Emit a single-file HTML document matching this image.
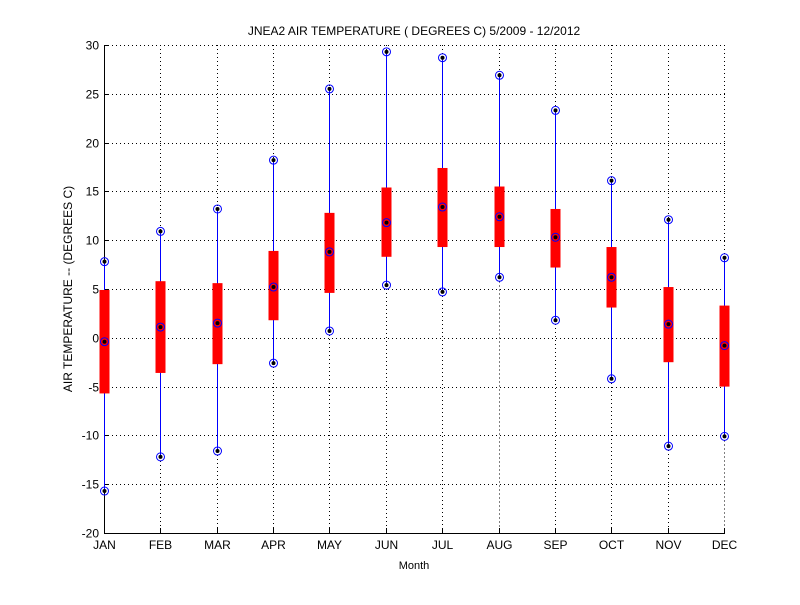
<!DOCTYPE html>
<html><head><meta charset="utf-8"><style>
body{margin:0;background:#fff;}
svg text{font-family:"Liberation Sans",sans-serif;font-size:12px;fill:#000;}
line{shape-rendering:crispEdges;}
</style></head><body>
<svg id="chart" width="800" height="600">
<rect width="800" height="600" fill="#fff"/>
<g id="grid"></g>
<g id="axes"></g>
<g id="marks"></g>
<text x="414" y="35" text-anchor="middle">JNEA2  AIR TEMPERATURE ( DEGREES C) 5/2009 - 12/2012</text>
<text x="414" y="569" text-anchor="middle" style="font-size:11px">Month</text>
<text transform="translate(72,289) rotate(-90)" text-anchor="middle">AIR TEMPERATURE -- (DEGREES C)</text>
</svg>
<script>
const months=["JAN","FEB","MAR","APR","MAY","JUN","JUL","AUG","SEP","OCT","NOV","DEC"];
const maxVals=[7.8,10.9,13.2,18.2,25.5,29.3,28.7,26.9,23.3,16.1,12.1,8.2];
const minVals=[-15.7,-12.2,-11.6,-2.6,0.7,5.4,4.7,6.2,1.8,-4.2,-11.1,-10.1];
const upperVals=[4.9,5.8,5.6,8.9,12.8,15.4,17.4,15.5,13.2,9.3,5.2,3.3];
const lowerVals=[-5.7,-3.6,-2.7,1.8,4.6,8.3,9.3,9.3,7.2,3.1,-2.5,-5.0];
const medianVals=[-0.4,1.1,1.5,5.2,8.8,11.8,13.4,12.4,10.3,6.2,1.4,-0.8];
const yTicks=[-20,-15,-10,-5,0,5,10,15,20,25,30];
const L=104,R=724,T=45,B=533,Y0=-20,Y1=30;
const xs=i=>L+(R-L)*i/(months.length-1);
const ys=v=>B-(v-Y0)/(Y1-Y0)*(B-T);
const NS="http://www.w3.org/2000/svg";
function mk(tag,attrs,parent){const e=document.createElementNS(NS,tag);for(const k in attrs)e.setAttribute(k,attrs[k]);parent.appendChild(e);return e;}
const grid=document.getElementById('grid'),axes=document.getElementById('axes'),marks=document.getElementById('marks');
yTicks.forEach(v=>{
 const y=Math.round(ys(v))+0.5;
 const g=mk('line',{x1:L,x2:R+1,y1:y,y2:y,stroke:'#000','stroke-dasharray':'1,3','stroke-width':1},grid);
 
 
 const t=mk('line',{x1:L,x2:L+5,y1:y,y2:y,stroke:'#000'},axes);
 
 
 const tx=mk('text',{x:L-5,y:y+4,'text-anchor':'end'},axes);tx.textContent=v;
 
 
});
months.forEach((m,i)=>{
 const x=Math.round(xs(i))+0.5;
 const segs=[[T,ys(maxVals[i])],[ys(minVals[i]),B]];
 segs.forEach(s=>{
  if(s[1]-s[0]<1)return;
  const g=mk('line',{x1:x,x2:x,y1:s[0],y2:s[1],stroke:'#000','stroke-dasharray':'1,3'},grid);
  
  
 });
 const t=mk('line',{x1:x,x2:x,y1:B,y2:B-5,stroke:'#000'},axes);
 
 
 const tx=mk('text',{x:x,y:B+16,'text-anchor':'middle'},axes);tx.textContent=m;
 
 
});
const la=mk('line',{x1:L+0.5,x2:L+0.5,y1:T,y2:B+0.5,stroke:'#000'},axes);


const ba=mk('line',{x1:L,x2:R+1,y1:B+0.5,y2:B+0.5,stroke:'#000'},axes);


months.forEach((m,i)=>{
 const x=Math.round(xs(i))+0.5;
 const w=mk('line',{x1:x,x2:x,y1:ys(maxVals[i]),y2:ys(minVals[i]),stroke:'#0000ff','stroke-width':1},marks);
 
 
 const b=mk('rect',{x:x-5,y:ys(upperVals[i]),width:10,height:ys(lowerVals[i])-ys(upperVals[i]),fill:'#ff0000'},marks);
 
 
 [maxVals[i],medianVals[i],minVals[i]].forEach(v=>{
  const c=mk('circle',{cx:x,cy:ys(v),r:4,fill:'none',stroke:'#0000ff'},marks);
  
  
  const d=mk('circle',{cx:x,cy:ys(v),r:2,fill:'#000'},marks);
  
  
 });
});
</script>
</body></html>
